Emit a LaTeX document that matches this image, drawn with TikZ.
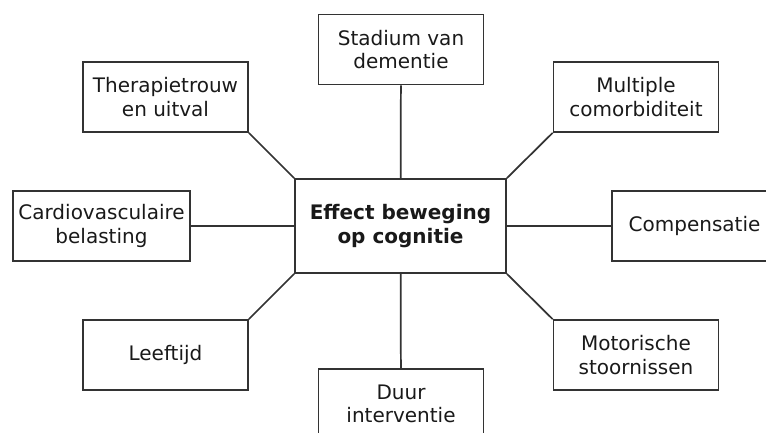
\documentclass[tikz,border=0pt]{standalone}
\usepackage{fontspec}
\setmainfont{DejaVu Sans}
\usetikzlibrary{positioning}

\begin{document}
\begin{tikzpicture}[
    x=0.75pt, y=-0.75pt,
    every node/.style={text=black!90},
    factor/.style={draw=black!80, line width=1.3pt, align=center,
        minimum width=123.75pt, minimum height=52.5pt, inner sep=2pt,
        font=\fontsize{15}{17.4}\selectfont},
    centre/.style={factor, minimum width=158.25pt, minimum height=70.5pt,
        font=\fontsize{15}{17.4}\selectfont\bfseries},
    link/.style={draw=black!80, line width=1.3pt}
]
\clip (0,0) rectangle (766,432);

\node[centre] (effect) at (400.5,226) {Effect beweging\\op cognitie};

\node[factor] (stadium) at (401,49.5) {Stadium van\\dementie};
\node[factor] (therapie) at (165.5,97) {Therapietrouw\\en uitval};
\node[factor] (comorb) at (636,97) {Multiple\\comorbiditeit};
\node[factor, minimum width=132.75pt] (cardio) at (101.5,226) {Cardiovasculaire\\belasting};
\node[factor] (compens) at (694.5,226) {Compensatie};
\node[factor] (leeftijd) at (165.5,355) {Leeftijd};
\node[factor] (motor) at (636,355) {Motorische\\stoornissen};
\node[factor] (duur) at (401,404) {Duur\\interventie};

\draw[link] (stadium) -- (effect);
\draw[link] (duur) -- (effect);
\draw[link] (cardio) -- (effect);
\draw[link] (compens) -- (effect);
\draw[link] (therapie.south east) -- (effect.north west);
\draw[link] (comorb.south west) -- (effect.north east);
\draw[link] (leeftijd.north east) -- (effect.south west);
\draw[link] (motor.north west) -- (effect.south east);

\end{tikzpicture}
\end{document}
